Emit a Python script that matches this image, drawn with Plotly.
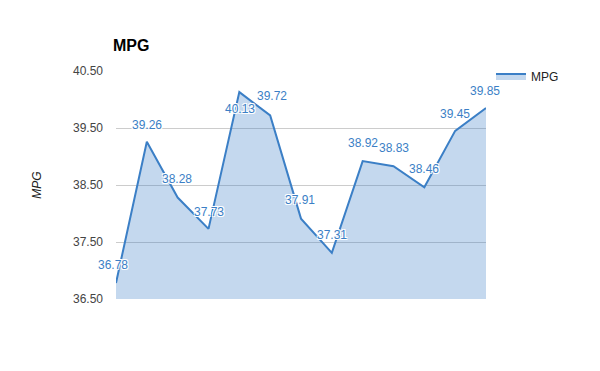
import plotly.graph_objects as go

categories = list(range(13))
mpg = [36.78, 39.26, 38.28, 37.73, 40.13, 39.72, 37.91, 37.31, 38.92, 38.83, 38.46, 39.45, 39.85]
labels = [f"{v:.2f}" for v in mpg]
label_dx = [-3, 0, -1, 0, 1, 2, -1, 0, 0, 0, 0, 0, -1]
label_dy = [18, 17, 19, 17, -17, 19, 19, 18, 18, 18, 18, 17, 17]
tick_vals = [36.5, 37.5, 38.5, 39.5, 40.5]
tick_text = ["36.50", "37.50", "38.50", "39.50", "40.50"]

fig = go.Figure()
fig.add_trace(go.Scatter(
    x=categories, y=mpg, name="MPG", mode="lines",
    line=dict(color="#3b7fc6", width=2),
    fill="tozeroy", fillcolor="rgba(59,127,198,0.3)",
))

halo = "-1px -1px 0 white, 1px -1px 0 white, -1px 1px 0 white, 1px 1px 0 white"
for xv, yv, t, dx, dy in zip(categories, mpg, labels, label_dx, label_dy):
    fig.add_annotation(
        x=xv, y=yv, text=t, showarrow=False, xshift=dx, yshift=dy,
        font=dict(family="Liberation Sans, Arial", size=12, color="#3b7fc6",
                  shadow=halo),
    )

fig.update_layout(
    width=600, height=371,
    margin=dict(l=116, r=114, t=71, b=72),
    paper_bgcolor="white", plot_bgcolor="white",
    font=dict(family="Liberation Sans, Arial", size=12, color="#444"),
    title=dict(text="<b>MPG</b>", x=113/600, xanchor="left", y=1-45/371, yanchor="middle",
               font=dict(size=16, color="black")),
    xaxis=dict(range=[0, 12], showgrid=False, showticklabels=False, zeroline=False,
               showline=False, ticks=""),
    yaxis=dict(range=[36.5, 40.5], tickvals=tick_vals, ticktext=tick_text,
               showgrid=True, gridcolor="#cccccc", zeroline=False, showline=False,
               ticks="", ticklabelstandoff=12, tickfont=dict(color="#444"),
               title=dict(text="<i>MPG</i>", standoff=28, font=dict(size=12, color="#222"))),
    legend=dict(x=(491-116)/370, xanchor="left", y=(299-76)/228, yanchor="middle",
                itemwidth=30, font=dict(size=12, color="#222"), bgcolor="rgba(0,0,0,0)"),
    showlegend=True,
)

fig.write_html("out.html")
